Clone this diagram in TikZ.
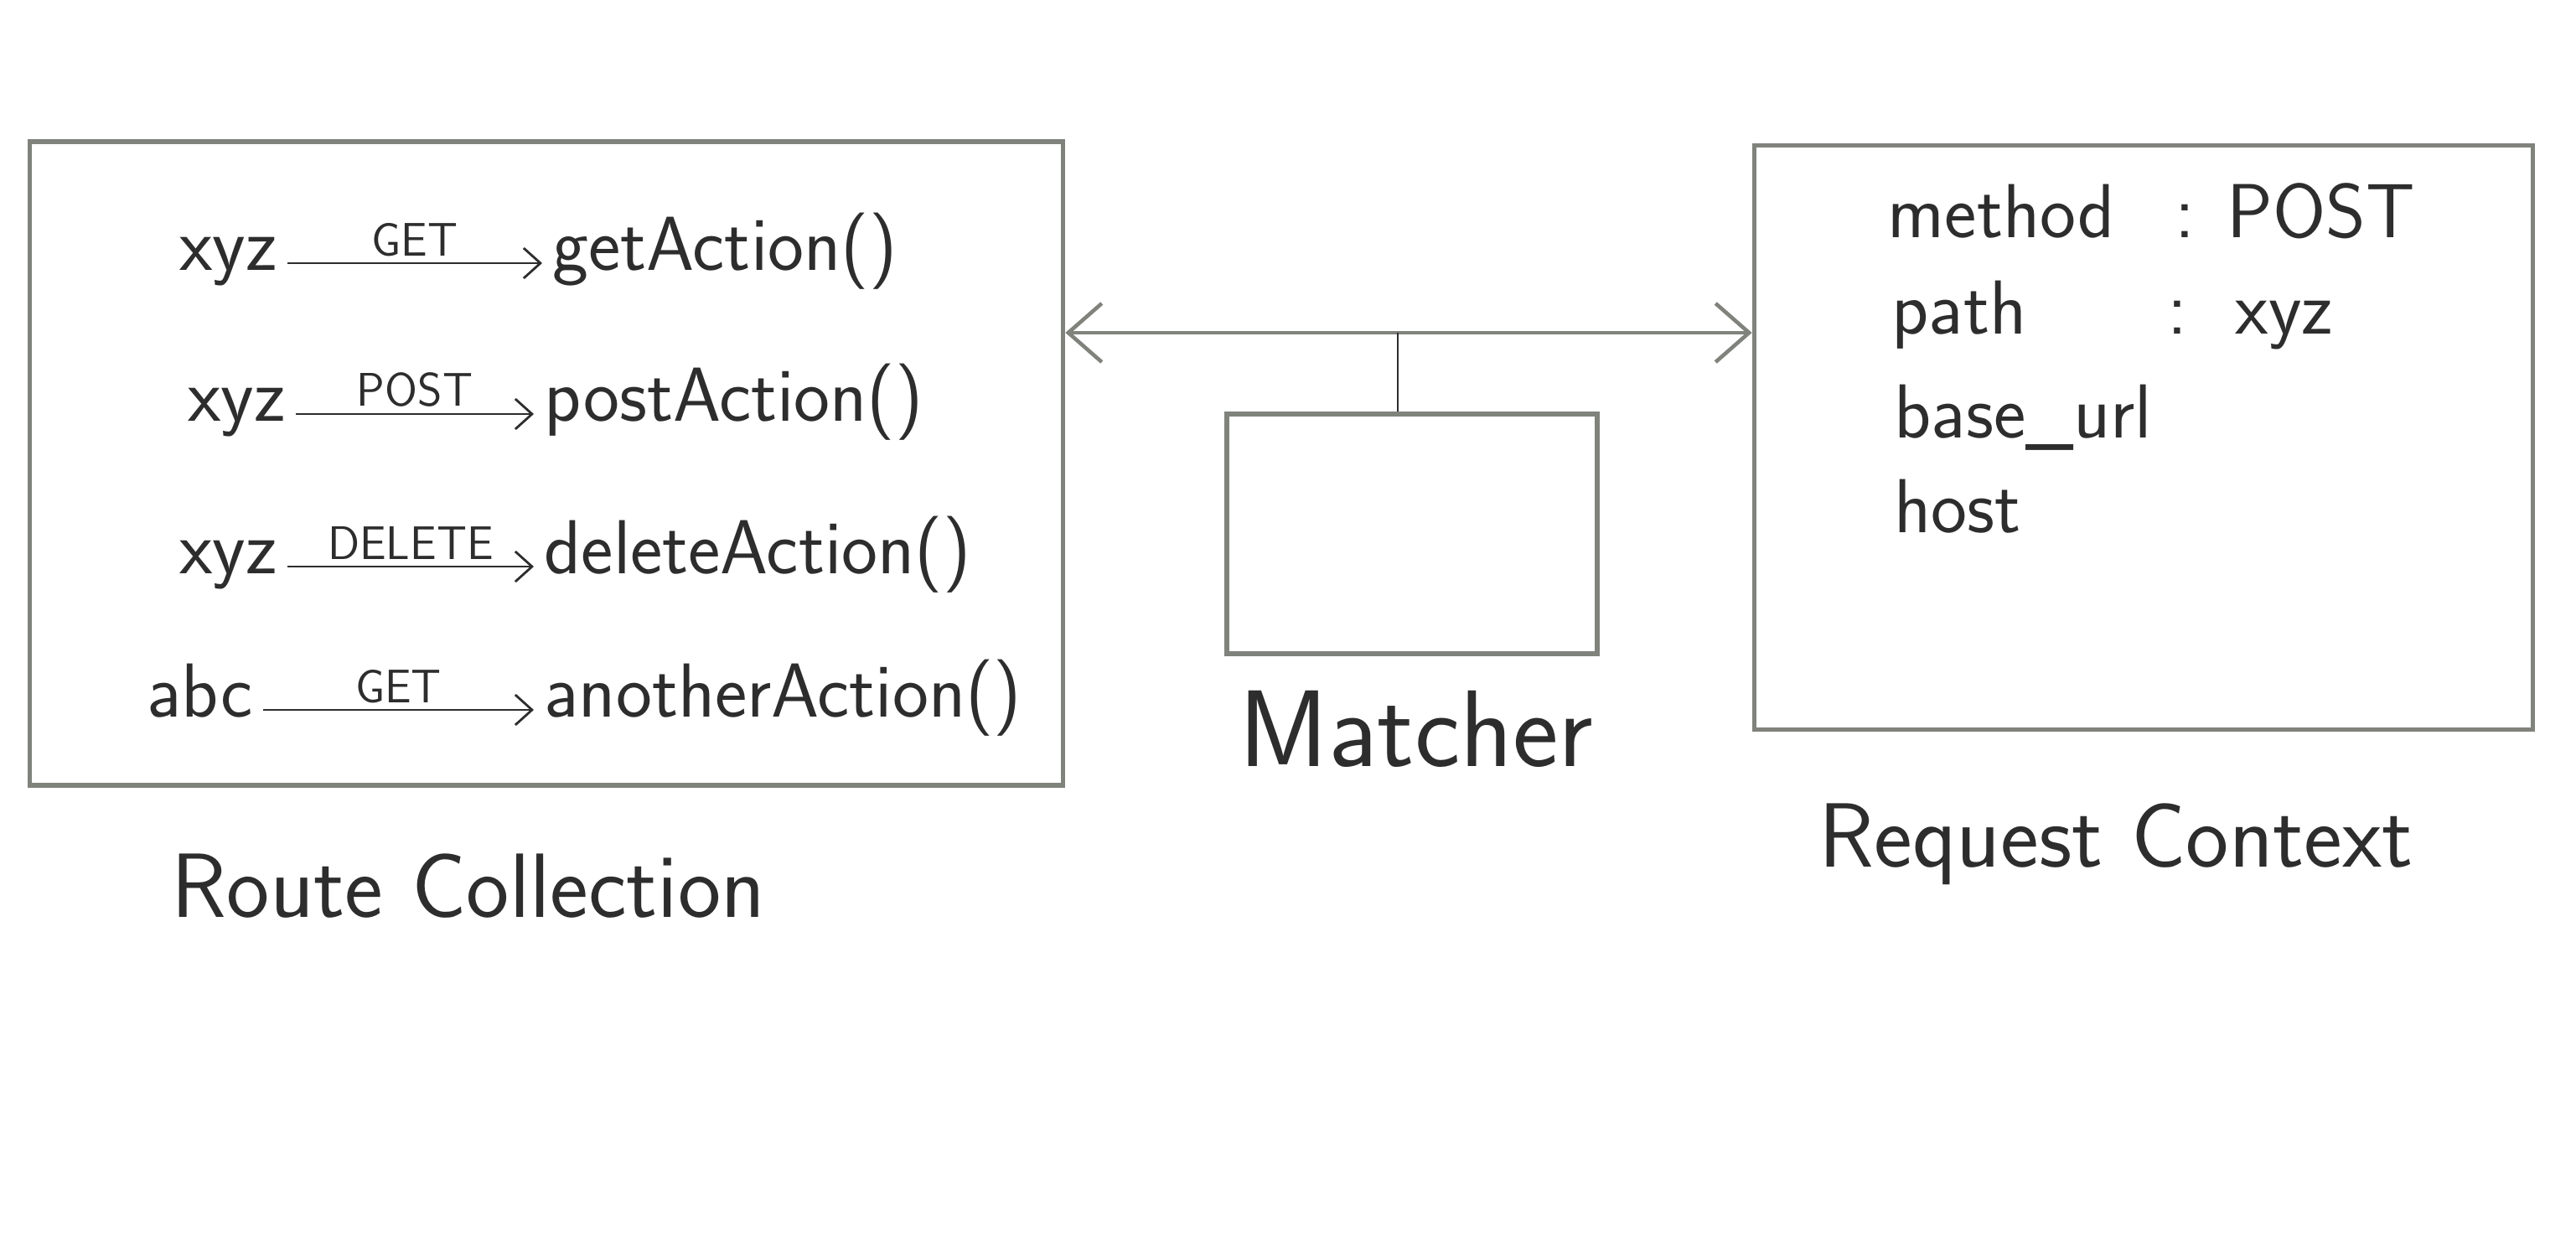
\documentclass[tikz,border=0pt]{standalone}
\usepackage{fontspec}
\usepackage{pgf,tikz}
\usetikzlibrary{arrows,arrows.meta}
\usetikzlibrary{calc}
\definecolor{pencil}{RGB}{128,130,124}
\definecolor{ink}{RGB}{45,45,45}
\begin{document}
\begin{tikzpicture}[
	box/.style={draw=pencil, line width=1.6pt, inner sep=0pt},
	entry/.style={text=ink, font=\sffamily\fontsize{26}{30}\selectfont, text height=0.7em, text depth=0.22em, inner sep=0.12cm},
	verb/.style={text=ink, font=\sffamily\fontsize{16}{19}\selectfont, inner sep=2pt},
	title/.style={text=ink, font=\sffamily\fontsize{31}{36}\selectfont, text height=0.7em, text depth=0pt},
	route/.style={draw=ink, line width=0.8pt, -{Straight Barb[length=2mm,width=3.6mm]}}]
\useasboundingbox (0,0) rectangle (30.74,-15.01);
% boxes
	\node[box, minimum width=12.33cm, minimum height=7.68cm] (rc) at (6.52,-5.53) {};
	\node[box, minimum width=4.42cm, minimum height=2.86cm] (mt) at (16.85,-6.37) {};
	\node[box, minimum width=9.29cm, minimum height=6.97cm] (ctx) at (25.58,-5.22) {};
	\node[title] (rclabel) at (5.59,-10.82) {Route Collection};
	\node[title, font=\sffamily\fontsize{37}{42}\selectfont] (mtlabel) at (16.90,-9.02) {Matcher};
	\node[title] (ctxlabel) at (25.25,-10.22) {Request Context};
% routes
	\node[entry, anchor=east] (p1) at (3.43,-3.14) {xyz};
	\node[entry, anchor=west] (a1) at (6.47,-3.14) {getAction()};
	\node[entry, anchor=east] (p2) at (3.53,-4.94) {xyz};
	\node[entry, anchor=west] (a2) at (6.37,-4.94) {postAction()};
	\node[entry, anchor=east] (p3) at (3.43,-6.76) {xyz};
	\node[entry, anchor=west] (a3) at (6.37,-6.76) {deleteAction()};
	\node[entry, anchor=east] (p4) at (3.14,-8.47) {abc};
	\node[entry, anchor=west] (a4) at (6.37,-8.47) {anotherAction()};
\draw[route] (p1) -- node[verb, above] {GET} (a1);
\draw[route] (p2) -- node[verb, above] {POST} (a2);
\draw[route] (p3) -- node[verb, above] {DELETE} (a3);
\draw[route] (p4) -- node[verb, above] {GET} (a4);
% request context
	\node[entry, anchor=west] (kmethod) at (22.40,-2.75) {method};
	\node[entry] (cmethod) at (26.07,-2.75) {:};
	\node[entry, anchor=west] (vmethod) at (26.45,-2.75) {POST};
	\node[entry, anchor=west] (kpath) at (22.45,-3.90) {path};
	\node[entry] (cpath) at (25.98,-3.90) {:};
	\node[entry, anchor=west] (vpath) at (26.55,-3.90) {xyz};
	\node[entry, anchor=west] (kbase) at (22.48,-5.14) {base\_url};
	\node[entry, anchor=west] (khost) at (22.48,-6.27) {host};
% matcher link
\coordinate (mid) at (16.68,-3.97);
\draw[draw=pencil, line width=1.3pt, {Straight Barb[length=4mm,width=7mm]}-{Straight Barb[length=4mm,width=7mm]}] (rc.east |- mid) -- (ctx.west |- mid);
\draw[draw=ink, line width=0.6pt] (mid) -- (mid |- mt.north);
\end{tikzpicture}
\end{document}
